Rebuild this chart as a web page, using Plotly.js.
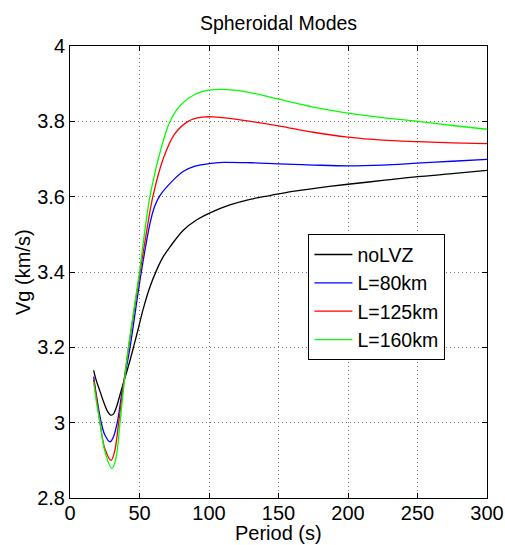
<!DOCTYPE html>
<html>
<head>
<meta charset="utf-8">
<script src="https://cdn.plot.ly/plotly-3.0.1.min.js"></script>
<style>html,body{margin:0;padding:0;background:#fff;}#chart{width:505px;height:545px;}</style>
</head>
<body>
<div id="chart"></div>
<script>
// Data
var seriesNames = ["noLVZ", "L=80km", "L=125km", "L=160km"];

var periodNoLVZ = [17, 19, 21.6, 25, 27, 29.3, 31, 33, 36.9, 40.5, 43, 46, 49, 52.7, 57, 62.3, 67, 72, 81.5, 91, 100.7, 115, 129.5, 143.9, 160, 180, 200, 225, 250, 275, 300];
var vgNoLVZ     = [3.139, 3.111, 3.083, 3.047, 3.030, 3.020, 3.022, 3.037, 3.086, 3.131, 3.163, 3.205, 3.248, 3.302, 3.355, 3.405, 3.440, 3.467, 3.511, 3.538, 3.557, 3.578, 3.593, 3.603, 3.614, 3.624, 3.633, 3.643, 3.653, 3.661, 3.670];

var period80 = [17, 19, 22.5, 25, 28.8, 31, 34, 37.6, 40.5, 43.2, 47, 51.3, 57.6, 61, 64.7, 74.3, 82, 90, 100, 110, 130, 150, 175, 200, 225, 250, 275, 300];
var vg80     = [3.122, 3.072, 3.000, 2.968, 2.949, 2.960, 3.000, 3.086, 3.145, 3.200, 3.295, 3.400, 3.530, 3.575, 3.603, 3.644, 3.668, 3.681, 3.688, 3.691, 3.690, 3.687, 3.684, 3.682, 3.684, 3.689, 3.694, 3.699];

var period125 = [17, 19, 21.6, 25, 29.5, 32, 35, 37.9, 42.2, 46, 50.4, 55, 59.6, 67, 75, 85, 95, 103, 115, 130, 150, 175, 200, 225, 250, 275, 300];
var vg125     = [3.115, 3.068, 3.000, 2.932, 2.900, 2.922, 3.000, 3.086, 3.200, 3.295, 3.400, 3.505, 3.600, 3.700, 3.765, 3.800, 3.811, 3.812, 3.808, 3.800, 3.788, 3.771, 3.758, 3.750, 3.746, 3.743, 3.741];

var period160 = [17, 19, 21.6, 25, 30.2, 33, 36, 38.4, 42, 46, 50, 53.5, 57, 60, 63.5, 72, 80, 90, 100, 108, 120, 135, 150, 175, 200, 225, 250, 275, 300];
var vg160     = [3.108, 3.055, 3.000, 2.925, 2.878, 2.905, 3.000, 3.086, 3.200, 3.300, 3.400, 3.500, 3.590, 3.645, 3.700, 3.800, 3.845, 3.872, 3.883, 3.885, 3.882, 3.872, 3.859, 3.838, 3.822, 3.810, 3.800, 3.789, 3.779];

var xTicks = [0, 50, 100, 150, 200, 250, 300];
var yTicks = [2.8, 3.0, 3.2, 3.4, 3.6, 3.8, 4.0];
var yTickText = ["2.8", "3", "3.2", "3.4", "3.6", "3.8", "4"];

var colors = ["#000000", "#0000ff", "#ff0000", "#00ff00"];
var xs = [periodNoLVZ, period80, period125, period160];
var ys = [vgNoLVZ, vg80, vg125, vg160];

var traces = seriesNames.map(function (n, i) {
  return {
    x: xs[i], y: ys[i], name: n, type: "scatter", mode: "lines",
    line: {color: colors[i], width: 1.3, shape: "spline", smoothing: 1}
  };
});

var FONT = "Liberation Sans, Arial, Helvetica, sans-serif";

var axisCommon = {
  showline: true, linecolor: "#000", linewidth: 1, mirror: "ticks",
  ticks: "inside", ticklen: 5, tickcolor: "#000", tickwidth: 1,
  showgrid: true, gridcolor: "#777", gridwidth: 1, griddash: "1px,3px",
  zeroline: false, tickfont: {family: FONT, size: 20, color: "#000"}
};

var layout = {
  width: 505, height: 545,
  margin: {l: 70, r: 18, t: 46, b: 47},
  paper_bgcolor: "#fff", plot_bgcolor: "#fff",
  font: {family: FONT, color: "#000"},
  title: {text: "Spheroidal Modes", font: {family: FONT, size: 19.5, color: "#000"},
          xref: "paper", x: 0.5, xanchor: "center", yref: "container", y: 0.958, yanchor: "middle"},
  xaxis: Object.assign({}, axisCommon, {
    range: [0, 300], tickvals: xTicks, ticktext: xTicks.map(String),
    ticklabelstandoff: -3
  }),
  yaxis: Object.assign({}, axisCommon, {
    range: [2.8, 4], tickvals: yTicks, ticktext: yTickText
  }),
  annotations: [
    {text: "Period (s)", xref: "paper", yref: "paper", x: 0.5, y: -0.078,
     xanchor: "center", yanchor: "middle", showarrow: false,
     font: {family: FONT, size: 20, color: "#000"}},
    {text: "Vg (km/s)", xref: "paper", yref: "paper", x: -0.1127, y: 0.5,
     xanchor: "center", yanchor: "middle", textangle: -90, showarrow: false,
     font: {family: FONT, size: 20, color: "#000"}}
  ],
  showlegend: true,
  legend: {
    x: 0.571, y: 0.584, xanchor: "left", yanchor: "top",
    bgcolor: "#fff", bordercolor: "#000", borderwidth: 1.3,
    font: {family: FONT, size: 19.5, color: "#000"},
    itemwidth: 38, tracegroupgap: 0
  }
};

Plotly.newPlot("chart", traces, layout, {displayModeBar: false, staticPlot: true});
</script>
</body>
</html>
